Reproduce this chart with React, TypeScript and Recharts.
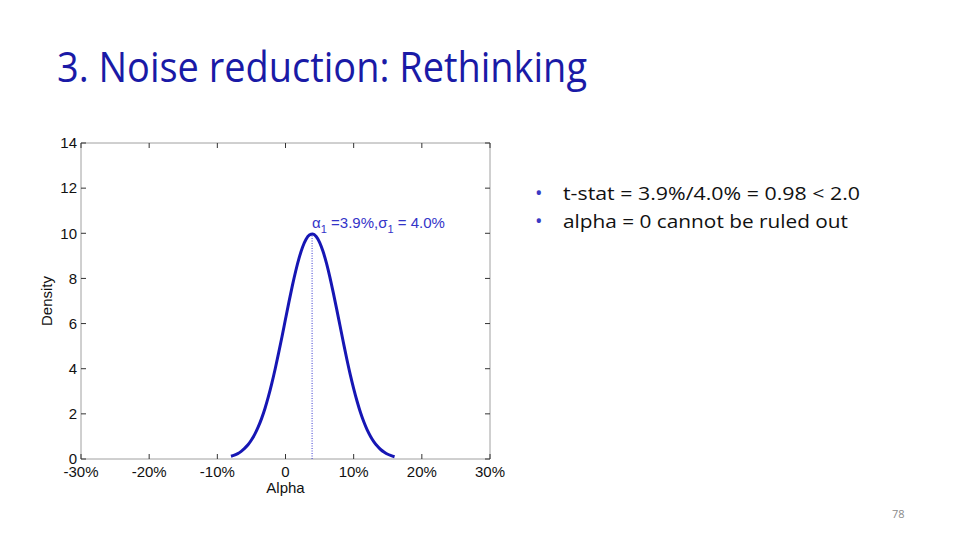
import { LineChart, Line, XAxis, YAxis, ReferenceLine, ReferenceDot, ReferenceArea, Label } from "recharts";

// posterior of alpha, in percent, and its density
const alphaPct = [
  -8, -7.5, -7, -6.5, -6, -5.5, -5, -4.5, -4, -3.5, -3, -2.5, -2, -1.5, -1, -0.5,
  0, 0.5, 1, 1.5, 2, 2.5, 3, 3.5, 4, 4.5, 5, 5.5, 6, 6.5, 7, 7.5,
  8, 8.5, 9, 9.5, 10, 10.5, 11, 11.5, 12, 12.5, 13, 13.5, 14, 14.5, 15, 15.5, 16,
];
const density = [
  0.12, 0.17, 0.24, 0.34, 0.47, 0.63, 0.84, 1.1, 1.42, 1.8, 2.25, 2.77, 3.36, 4.01, 4.71, 5.44,
  6.2, 6.95, 7.67, 8.33, 8.91, 9.38, 9.72, 9.92, 9.97, 9.86, 9.6, 9.2, 8.69, 8.07, 7.38, 6.65,
  5.9, 5.15, 4.42, 3.74, 3.12, 2.56, 2.06, 1.64, 1.28, 0.99, 0.75, 0.56, 0.41, 0.3, 0.21, 0.15, 0.1,
];
const xTicks = [-30, -20, -10, 0, 10, 20, 30];
const yTicks = [0, 2, 4, 6, 8, 10, 12, 14];
const alphaMean = 3.9;
const alphaPeak = 9.97;
const annotationY = 10.23;

const title = "3. Noise reduction: Rethinking";
const bullets = ["t-stat = 3.9%/4.0% = 0.98 < 2.0", "alpha = 0 cannot be ruled out"];
const bulletWidths = [297, 285];
const pageNumber = "78";

const data = alphaPct.map((a, i) => ({ alpha: a, density: density[i] }));

const BLUE = "#1616b4";
const BOX = "#a0a0a0";
const TICK = "#333";
const TL = 5; // inward tick length

// chart layout
const W = 520;
const H = 540;
const M = { top: 143, right: 30, bottom: 42, left: 13 };
const Y_AXIS_W = 68;
const X_AXIS_H = 39;
const PLOT_TOP = M.top;
const PLOT_BOTTOM = H - M.bottom - X_AXIS_H;
const PLOT_LEFT = M.left + Y_AXIS_W;
const PLOT_RIGHT = W - M.right;

const fmt = (v: number) => (v === 0 ? "0" : `${v}%`);

function Annotation({ viewBox }: any) {
  const { x, y } = viewBox;
  return (
    <text x={x} y={y} fill="#3434c8" fontSize={15}>
      <tspan>α</tspan>
      <tspan dy={5} fontSize={11}>1</tspan>
      <tspan dy={-5}> =3.9%,σ</tspan>
      <tspan dy={5} fontSize={11}>1</tspan>
      <tspan dy={-5}> = 4.0%</tspan>
    </text>
  );
}

// tick label plus inward tick marks on both sides of the box (matlab style)
const BottomTick = ({ x, payload }: any) => (
  <g>
    <line x1={x} x2={x} y1={PLOT_BOTTOM} y2={PLOT_BOTTOM - TL} stroke={TICK} />
    <line x1={x} x2={x} y1={PLOT_TOP} y2={PLOT_TOP + TL} stroke={TICK} />
    <text x={x} y={PLOT_BOTTOM + 7} dy="0.71em" textAnchor="middle" fill="#111" fontSize={15}>
      {fmt(payload.value)}
    </text>
  </g>
);
const LeftTick = ({ y, payload }: any) => (
  <g>
    <line x1={PLOT_LEFT} x2={PLOT_LEFT + TL} y1={y} y2={y} stroke={TICK} />
    <line x1={PLOT_RIGHT} x2={PLOT_RIGHT - TL} y1={y} y2={y} stroke={TICK} />
    <text x={PLOT_LEFT - 4} y={y} dy="0.355em" textAnchor="end" fill="#111" fontSize={15}>
      {payload.value}
    </text>
  </g>
);

export default function App() {
  return (
    <div
      style={{
        position: "absolute",
        left: 0,
        top: 0,
        width: 960,
        height: 540,
        background: "#fff",
        fontFamily: "'Liberation Sans', Arial, sans-serif",
      }}
    >
      <svg width={960} height={540} style={{ position: "absolute", left: 0, top: 0 }}>
        <text
          x={57}
          y={82}
          fontSize={42}
          fill="#1a1aa6"
          fontFamily="'Open Sans', sans-serif"
          textLength={530}
          lengthAdjust="spacingAndGlyphs"
        >
          {title}
        </text>
        {bullets.map((b, i) => (
          <g key={b}>
            <text x={535} y={200 + i * 28} fontSize={20} fill="#3a3ac4" fontFamily="'Open Sans', sans-serif">
              •
            </text>
            <text
              x={563}
              y={200 + i * 28}
              fontSize={19}
              fill="#111"
              fontFamily="'Open Sans', sans-serif"
              textLength={bulletWidths[i]}
              lengthAdjust="spacingAndGlyphs"
            >
              {b}
            </text>
          </g>
        ))}
        <text x={892} y={518} fontSize={11} fill="#8a8a8a" fontFamily="'Open Sans', sans-serif">
          {pageNumber}
        </text>
      </svg>
      <div style={{ position: "absolute", left: 0, top: 0 }}>
        <LineChart width={W} height={H} data={data} margin={M}>
          <ReferenceArea x1={-30} x2={30} y1={0} y2={14} fill="none" stroke={BOX} strokeWidth={1} />
          <XAxis
            dataKey="alpha"
            type="number"
            domain={[-30, 30]}
            ticks={xTicks}
            height={X_AXIS_H}
            axisLine={false}
            tickLine={false}
            tick={BottomTick}
            interval={0}
          >
            <Label value="Alpha" position="insideBottom" offset={5} fill="#111" fontSize={15} />
          </XAxis>
          <YAxis
            type="number"
            domain={[0, 14]}
            ticks={yTicks}
            width={Y_AXIS_W}
            axisLine={false}
            tickLine={false}
            tick={LeftTick}
            interval={0}
          >
            <Label value="Density" position="center" angle={-90} fill="#111" fontSize={15} />
          </YAxis>
          <ReferenceLine
            segment={[
              { x: alphaMean, y: 0 },
              { x: alphaMean, y: alphaPeak },
            ]}
            stroke="#3a3ad0"
            strokeWidth={1}
            strokeDasharray="1 1.5"
          />
          <Line
            type="monotone"
            dataKey="density"
            stroke={BLUE}
            strokeWidth={3}
            dot={false}
            isAnimationActive={false}
          />
          <ReferenceDot
            x={alphaMean}
            y={annotationY}
            r={0}
            fill="none"
            stroke="none"
            label={(props: any) => <Annotation {...props} />}
          />
        </LineChart>
      </div>
    </div>
  );
}
